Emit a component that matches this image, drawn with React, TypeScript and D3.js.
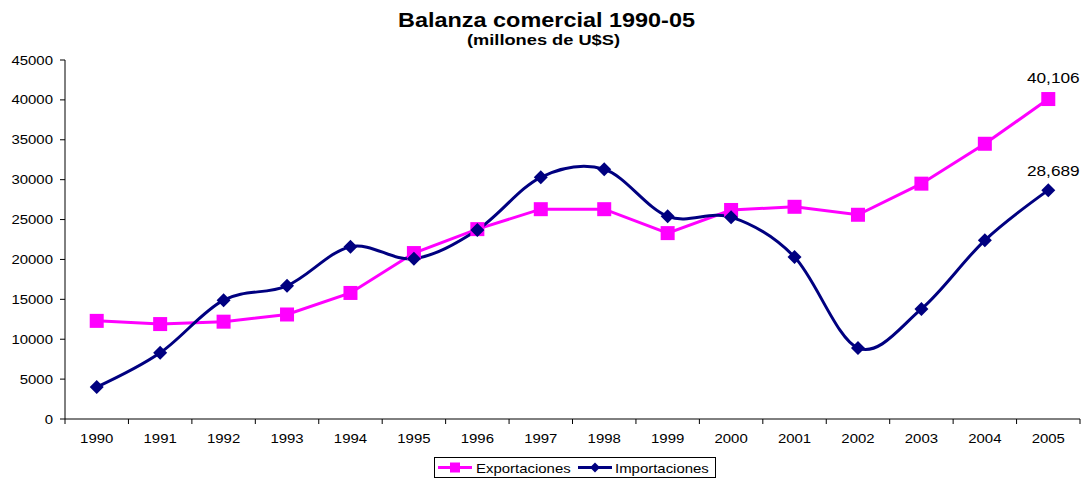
import React from "react";
import * as d3 from "d3";

const years = ["1990","1991","1992","1993","1994","1995","1996","1997","1998","1999","2000","2001","2002","2003","2004","2005"];
const exportaciones = [12300,11900,12200,13100,15800,20800,23800,26300,26300,23300,26200,26600,25600,29500,34500,40106];
const importaciones = [4000,8300,14900,16700,21600,20100,23700,30300,31300,25400,25300,20300,8900,13800,22400,28689];
const yTicks = [0,5000,10000,15000,20000,25000,30000,35000,40000,45000];

const W = 1091, H = 480;
const left = 65, right = 1080, top = 60, bottom = 419;
const EXP = "#FF00FF", IMP = "#000080";
const font = "Arial, 'Liberation Sans', sans-serif";
const SX = 1.15;

function T(props: { x: number; y: number; size: number; anchor?: string; bold?: boolean; sx?: number; children: any }) {
  const { x, y, size, anchor = "start", bold = false, sx = SX, children } = props;
  return (
    <text transform={`translate(${x},${y}) scale(${sx},1)`} textAnchor={anchor} fontSize={size} fontWeight={bold ? "bold" : "normal"}>
      {children}
    </text>
  );
}

export default function App() {
  const x = d3.scaleBand().domain(years).range([left, right]);
  const y = d3.scaleLinear().domain([0, 45000]).range([bottom, top]);
  const cx = (i: number) => (x(years[i]) as number) + x.bandwidth() / 2;
  const lineExp = d3.line<number>().x((_, i) => cx(i)).y(d => y(d));
  const lineImp = d3.line<number>().x((_, i) => cx(i)).y(d => y(d)).curve(d3.curveCardinal.tension(0));
  const fmt = d3.format(",");
  const diamond = (px: number, py: number, r: number) => `M${px},${py - r}L${px + r},${py}L${px},${py + r}L${px - r},${py}Z`;
  const bounds = [...years.map(yy => x(yy) as number), right];
  return (
    <svg width={W} height={H} style={{ position: "absolute", left: 0, top: 0, background: "#fff" }} fontFamily={font}>
      <rect x={0} y={0} width={W} height={H} fill="#fff" />
      <text x={398} y={27} fontSize={20} fontWeight="bold" textLength={297} lengthAdjust="spacingAndGlyphs">Balanza comercial 1990-05</text>
      <text x={467} y={45} fontSize={14} fontWeight="bold" textLength={153} lengthAdjust="spacingAndGlyphs">(millones de U$S)</text>
      {/* y axis */}
      <line x1={left} x2={left} y1={top} y2={bottom} stroke="#000" />
      {yTicks.map(t => (
        <g key={t}>
          <line x1={left - 5} x2={left} y1={y(t)} y2={y(t)} stroke="#000" />
          <T x={left - 12} y={y(t) + 4.5} size={13} anchor="end">{t}</T>
        </g>
      ))}
      {/* x axis */}
      <line x1={left} x2={right} y1={bottom} y2={bottom} stroke="#000" />
      {bounds.map((b, i) => (
        <line key={i} x1={b} x2={b} y1={bottom} y2={bottom + 5} stroke="#000" />
      ))}
      {years.map((yy, i) => (
        <T key={yy} x={cx(i)} y={443} size={13} anchor="middle">{yy}</T>
      ))}
      {/* lines */}
      <path d={lineExp(exportaciones) || ""} fill="none" stroke={EXP} strokeWidth={3} />
      <path d={lineImp(importaciones) || ""} fill="none" stroke={IMP} strokeWidth={3} />
      {exportaciones.map((v, i) => (
        <rect key={i} x={cx(i) - 7} y={y(v) - 7} width={14} height={14} fill={EXP} />
      ))}
      {importaciones.map((v, i) => (
        <path key={i} d={diamond(cx(i), y(v), 7)} fill={IMP} />
      ))}
      <T x={cx(15) + 5} y={y(exportaciones[15]) - 16} size={15} anchor="middle">{fmt(exportaciones[15])}</T>
      <T x={cx(15) + 5} y={y(importaciones[15]) - 14} size={15} anchor="middle">{fmt(importaciones[15])}</T>
      {/* legend */}
      <rect x={434.5} y={457.5} width={281} height={20} fill="#fff" stroke="#000" />
      <line x1={438} x2={472} y1={467.5} y2={467.5} stroke={EXP} strokeWidth={3} />
      <rect x={450} y={462.5} width={10} height={10} fill={EXP} />
      <T x={476} y={472.5} size={13}>Exportaciones</T>
      <line x1={578} x2={612} y1={467.5} y2={467.5} stroke={IMP} strokeWidth={3} />
      <path d={diamond(595, 467.5, 5)} fill={IMP} />
      <T x={615} y={472.5} size={13}>Importaciones</T>
    </svg>
  );
}
